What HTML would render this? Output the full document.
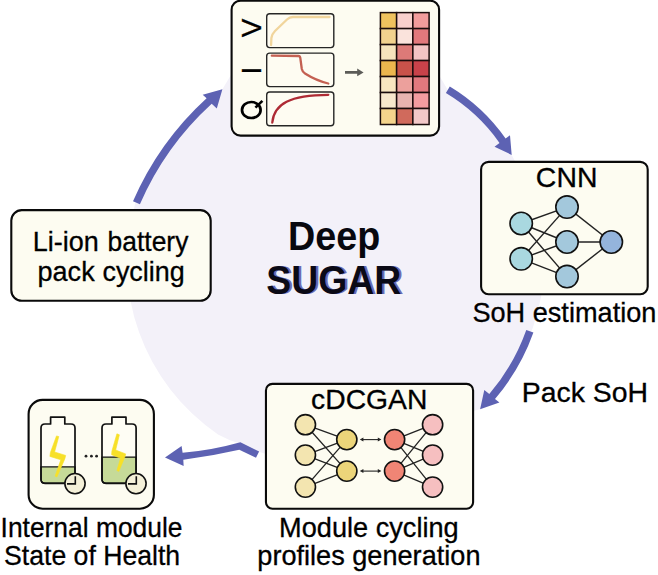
<!DOCTYPE html>
<html><head><meta charset="utf-8">
<style>
html,body{margin:0;padding:0;background:#fff;}
body{width:658px;height:575px;overflow:hidden;}
svg{display:block;}
text{font-family:"Liberation Sans",sans-serif;fill:#000;}
.lbl text{stroke:#000;stroke-width:0.3;}
</style></head><body>
<svg width="658" height="575" viewBox="0 0 658 575">
<rect width="658" height="575" fill="#fff"/>
<path d="M136.6 202.9 A299.1 299.1 0 0 1 222.4 89.3 L240 60 L430 60 L447.8 89.9 A180.5 180.5 0 0 1 511.7 154.9 L516 163 L545 262 L541.2 296 A208.6 208.6 0 0 1 480.1 409.3 L473 411 L266 454 L258 451.5 L241 444 Q229 440.5 218 434.4 A208.6 208.6 0 0 1 135.4 202.9 Z" fill="#f3f1f9"/>
<g fill="#5d62b3">
<path d="M133.0 201.3 A302.9 302.9 0 0 1 206.6 98.2 L202.7 94.8 L222.4 89.3 L216.8 108.6 L211.7 103.8 A295.4 295.4 0 0 0 139.9 204.3 Z"/>
<path d="M449.8 86.6 A184.2 184.2 0 0 1 505.6 138.6 L510.0 135.3 L511.7 154.9 L494.5 146.7 L499.5 142.9 A176.8 176.8 0 0 0 445.9 93.1 Z"/>
<path d="M533.4 332.5 A213.1 213.1 0 0 1 495.0 399.0 L499.4 402.6 L480.1 409.3 L484.3 390.0 L489.3 394.1 A205.6 205.6 0 0 0 526.3 330.0 Z"/>
<path d="M259.1 451.6 L240.4 442.2 Q211.5 450.35 182.6 452.7 L181.6 446.1 L165 457.4 L183.65 466.05 L183.3 459.65 Q211.3 456.3 239.3 449.8 L256 457.8 Z"/>
</g>
<g fill="#fdfcf1" stroke="#0a0a0a" stroke-width="2.1">
<rect x="231.60" y="0.70" width="207.50" height="134.90" rx="9.0"/>
<rect x="11.30" y="210.10" width="199.40" height="90.70" rx="10.5"/>
<rect x="481.10" y="161.90" width="166.60" height="132.30" rx="7.5"/>
<rect x="265.95" y="383.90" width="207.15" height="124.80" rx="6.5"/>
<rect x="28.60" y="399.90" width="125.30" height="108.80" rx="14.0"/>
</g>
<g class="lbl" font-size="28" text-anchor="middle">
<text transform="translate(261.4,27.8) rotate(-90)">V</text>
<text transform="translate(261.4,70.5) rotate(-90)">I</text>
</g>
<ellipse cx="251.3" cy="110" rx="9.3" ry="8" fill="none" stroke="#000" stroke-width="2.7"/>
<path d="M255.4 107.6 L262.4 100.9" stroke="#000" stroke-width="2.6" fill="none"/>
<g fill="#fefcf2" stroke="#262626" stroke-width="1.4">
<rect x="266.7" y="13.7" width="67.1" height="33.9" rx="3"/>
<rect x="266.7" y="53.1" width="67.1" height="33.5" rx="3"/>
<rect x="266.7" y="92" width="67.1" height="33.7" rx="3"/>
</g>
<g fill="none" stroke-width="2.3" stroke-linecap="round" stroke-linejoin="round">
<path d="M271.1 45 L271.4 38 Q272 34 275 31 L287 19.5 Q289.5 17 293 17 L329.5 17" stroke="#f1d59c"/>
<path d="M271.8 55.7 L298.5 56 Q300 56 300.3 58 L301.8 69 Q302.5 72 305 73.5 Q316 80.5 328.3 83.5" stroke="#c46052"/>
<path d="M272.3 122.5 C274 104 290 94.8 328.3 94.8" stroke="#ae2a34"/>
</g>
<path d="M345 71.1 L357.2 71.1 L357.2 68.6 L363.6 72.4 L357.2 76.2 L357.2 73.7 L345 73.7 Z" fill="#5c5c58"/>
<g stroke="#1a0c0c" stroke-width="1.5">
<rect x="380.40" y="12.60" width="16.23" height="15.99" fill="#efc25e"/>
<rect x="396.63" y="12.60" width="16.23" height="15.99" fill="#f8d0cc"/>
<rect x="412.87" y="12.60" width="16.23" height="15.99" fill="#f29c9c"/>
<rect x="380.40" y="28.59" width="16.23" height="15.99" fill="#f2d28e"/>
<rect x="396.63" y="28.59" width="16.23" height="15.99" fill="#fae3dc"/>
<rect x="412.87" y="28.59" width="16.23" height="15.99" fill="#e2787c"/>
<rect x="380.40" y="44.57" width="16.23" height="15.99" fill="#f6e4bc"/>
<rect x="396.63" y="44.57" width="16.23" height="15.99" fill="#dd7a78"/>
<rect x="412.87" y="44.57" width="16.23" height="15.99" fill="#f3c4c4"/>
<rect x="380.40" y="60.56" width="16.23" height="15.99" fill="#ecb64e"/>
<rect x="396.63" y="60.56" width="16.23" height="15.99" fill="#c8524a"/>
<rect x="412.87" y="60.56" width="16.23" height="15.99" fill="#c9424a"/>
<rect x="380.40" y="76.54" width="16.23" height="15.99" fill="#f8e6c0"/>
<rect x="396.63" y="76.54" width="16.23" height="15.99" fill="#eca09c"/>
<rect x="412.87" y="76.54" width="16.23" height="15.99" fill="#e2787e"/>
<rect x="380.40" y="92.53" width="16.23" height="15.99" fill="#f8e8cc"/>
<rect x="396.63" y="92.53" width="16.23" height="15.99" fill="#e8b4b0"/>
<rect x="412.87" y="92.53" width="16.23" height="15.99" fill="#f49ca0"/>
<rect x="380.40" y="108.51" width="16.23" height="15.99" fill="#f4d48c"/>
<rect x="396.63" y="108.51" width="16.23" height="15.99" fill="#d06a5c"/>
<rect x="412.87" y="108.51" width="16.23" height="15.99" fill="#f2c8c8"/>
</g>
<g stroke="#222" stroke-width="1.4">
<line x1="521.2" y1="223.5" x2="567.0" y2="207.1"/>
<line x1="521.2" y1="223.5" x2="567.0" y2="242.0"/>
<line x1="521.2" y1="223.5" x2="567.0" y2="276.6"/>
<line x1="521.2" y1="258.8" x2="567.0" y2="207.1"/>
<line x1="521.2" y1="258.8" x2="567.0" y2="242.0"/>
<line x1="521.2" y1="258.8" x2="567.0" y2="276.6"/>
<line x1="567.0" y1="207.1" x2="611.3" y2="242.0"/>
<line x1="567.0" y1="242.0" x2="611.3" y2="242.0"/>
<line x1="567.0" y1="276.6" x2="611.3" y2="242.0"/>
</g>
<g stroke="#111" stroke-width="1.6">
<circle cx="521.2" cy="223.5" r="11.2" fill="#a9d8e0"/>
<circle cx="521.2" cy="258.8" r="11.2" fill="#a9d8e0"/>
<circle cx="567.0" cy="207.1" r="11.2" fill="#a3c8dc"/>
<circle cx="567.0" cy="242.0" r="11.2" fill="#a3c8dc"/>
<circle cx="567.0" cy="276.6" r="11.2" fill="#a3c8dc"/>
<circle cx="611.3" cy="242.0" r="11.2" fill="#94b4dc"/>
</g>
<g stroke="#222" stroke-width="1.3">
<line x1="305.4" y1="424.7" x2="346.8" y2="439.6"/>
<line x1="305.4" y1="424.7" x2="346.8" y2="471.1"/>
<line x1="305.4" y1="455.1" x2="346.8" y2="439.6"/>
<line x1="305.4" y1="455.1" x2="346.8" y2="471.1"/>
<line x1="305.4" y1="487.1" x2="346.8" y2="439.6"/>
<line x1="305.4" y1="487.1" x2="346.8" y2="471.1"/>
<line x1="394.6" y1="439.6" x2="432.6" y2="424.7"/>
<line x1="394.6" y1="439.6" x2="432.6" y2="455.1"/>
<line x1="394.6" y1="439.6" x2="432.6" y2="487.1"/>
<line x1="394.6" y1="471.1" x2="432.6" y2="424.7"/>
<line x1="394.6" y1="471.1" x2="432.6" y2="455.1"/>
<line x1="394.6" y1="471.1" x2="432.6" y2="487.1"/>
</g>
<g stroke="#111" stroke-width="1.6">
<circle cx="305.4" cy="424.7" r="10.1" fill="#f3e5b0"/>
<circle cx="305.4" cy="455.1" r="10.1" fill="#f3e5b0"/>
<circle cx="305.4" cy="487.1" r="10.1" fill="#f3e5b0"/>
<circle cx="346.8" cy="439.6" r="10.1" fill="#ecd57a"/>
<circle cx="346.8" cy="471.1" r="10.1" fill="#ecd57a"/>
<circle cx="394.6" cy="439.6" r="10.1" fill="#f08575"/>
<circle cx="394.6" cy="471.1" r="10.1" fill="#f08575"/>
<circle cx="432.6" cy="424.7" r="10.1" fill="#f6bfc0"/>
<circle cx="432.6" cy="455.1" r="10.1" fill="#f6bfc0"/>
<circle cx="432.6" cy="487.1" r="10.1" fill="#f6bfc0"/>
</g>
<path d="M362 439.6 L379.2 439.6" stroke="#222" stroke-width="1.1" fill="none"/>
<path d="M359.8 439.6 l3.6 -2 v4 Z M381.4 439.6 l-3.6 -2 v4 Z" fill="#222"/>
<path d="M362 471.1 L379.2 471.1" stroke="#222" stroke-width="1.1" fill="none"/>
<path d="M359.8 471.1 l3.6 -2 v4 Z M381.4 471.1 l-3.6 -2 v4 Z" fill="#222"/>
<path d="M50.6 424.0 V417.2 H64.8 V424.0 H71.0 Q75.0 424.0 75.0 428.0 V479.3 Q75.0 483.3 71.0 483.3 H45.0 Q41.0 483.3 41.0 479.3 V428.0 Q41.0 424.0 45.0 424.0 Z" fill="#fefdf4" stroke="none"/>
<path d="M41.0 466.9 H75.0 V479.3 Q75.0 483.3 71.0 483.3 H45.0 Q41.0 483.3 41.0 479.3 Z" fill="#c6da98" stroke="#111" stroke-width="1.4"/>
<path d="M50.6 424.0 V417.2 H64.8 V424.0 H71.0 Q75.0 424.0 75.0 428.0 V479.3 Q75.0 483.3 71.0 483.3 H45.0 Q41.0 483.3 41.0 479.3 V428.0 Q41.0 424.0 45.0 424.0 Z" fill="none" stroke="#111" stroke-width="1.7" stroke-linejoin="round"/>
<path d="M111.9 424.0 V417.2 H126.0 V424.0 H132.1 Q136.1 424.0 136.1 428.0 V479.3 Q136.1 483.3 132.1 483.3 H106.0 Q102.0 483.3 102.0 479.3 V428.0 Q102.0 424.0 106.0 424.0 Z" fill="#fefdf4" stroke="none"/>
<path d="M102.0 457.1 H136.1 V479.3 Q136.1 483.3 132.1 483.3 H106.0 Q102.0 483.3 102.0 479.3 Z" fill="#c6da98" stroke="#111" stroke-width="1.4"/>
<path d="M111.9 424.0 V417.2 H126.0 V424.0 H132.1 Q136.1 424.0 136.1 428.0 V479.3 Q136.1 483.3 132.1 483.3 H106.0 Q102.0 483.3 102.0 479.3 V428.0 Q102.0 424.0 106.0 424.0 Z" fill="none" stroke="#111" stroke-width="1.7" stroke-linejoin="round"/>
<g fill="#f7e028" stroke="#f7e028" stroke-width="0.6" stroke-linejoin="round">
<path d="M56.5 435.9 L58.8 436.6 L54.6 452 L65.7 455.4 L64.8 458.9 L56.9 477 L55.1 476.1 L60.8 459.8 L49.9 456.4 L50.4 452.6 Z"/>
<path d="M116.9 433.8 L119.4 434.8 L115.7 450 L125.7 453.9 L124.8 457.3 L118.8 471.4 L116.9 470.5 L120.5 458.3 L111.6 454.7 L111.9 451 Z"/>
</g>
<circle cx="75.0" cy="483.6" r="10.1" fill="#f4f0d8" stroke="#111" stroke-width="1.6"/>
<path d="M75.3 476.2 V483.9 H67.0" fill="none" stroke="#111" stroke-width="1.6"/>
<circle cx="136.0" cy="483.6" r="10.1" fill="#f4f0d8" stroke="#111" stroke-width="1.6"/>
<path d="M136.3 476.2 V483.9 H128.0" fill="none" stroke="#111" stroke-width="1.6"/>
<circle cx="86.0" cy="456.2" r="1.4" fill="#222"/>
<circle cx="91.4" cy="456.2" r="1.4" fill="#222"/>
<circle cx="96.6" cy="456.2" r="1.4" fill="#222"/>
<g class="lbl">
<text x="32.77" y="250.70" font-size="28.30" textLength="66.00" lengthAdjust="spacingAndGlyphs">Li-ion</text>
<text x="107.58" y="250.70" font-size="28.30" textLength="80.78" lengthAdjust="spacingAndGlyphs">battery</text>
<text x="37.54" y="281.20" font-size="28.30" textLength="57.15" lengthAdjust="spacingAndGlyphs">pack</text>
<text x="102.46" y="281.20" font-size="28.30" textLength="82.27" lengthAdjust="spacingAndGlyphs">cycling</text>
<text x="535.88" y="186.75" font-size="27.70" textLength="61.54" lengthAdjust="spacingAndGlyphs">CNN</text>
<text x="472.38" y="321.70" font-size="27.40" textLength="184.01" lengthAdjust="spacingAndGlyphs">SoH estimation</text>
<text x="521.76" y="402.10" font-size="27.80" textLength="126.25" lengthAdjust="spacingAndGlyphs">Pack SoH</text>
<text x="311.10" y="408.90" font-size="27.30" textLength="116.31" lengthAdjust="spacingAndGlyphs">cDCGAN</text>
<text x="279.06" y="537.40" font-size="27.60" textLength="179.69" lengthAdjust="spacingAndGlyphs">Module cycling</text>
<text x="257.34" y="564.90" font-size="27.60" textLength="223.14" lengthAdjust="spacingAndGlyphs">profiles generation</text>
<text x="0.56" y="537.30" font-size="28.30" textLength="181.99" lengthAdjust="spacingAndGlyphs">Internal module</text>
<text x="4.10" y="565.20" font-size="28.30" textLength="176.04" lengthAdjust="spacingAndGlyphs">State of Health</text>
</g>
<g font-weight="bold" stroke-linejoin="round">
<text x="288.06" y="249.60" font-size="40.00" textLength="92.17" lengthAdjust="spacingAndGlyphs" style="fill:#08080f">Deep</text>
<g transform="translate(2.3,-0.5)"><text x="266.28" y="294.20" font-size="41.20" textLength="134.92" lengthAdjust="spacingAndGlyphs" style="fill:#6c6cb4">SUGAR</text>
</g>
<text x="266.28" y="294.20" font-size="41.20" textLength="134.92" lengthAdjust="spacingAndGlyphs" style="fill:#0a0a16">SUGAR</text>
</g>
</svg>
</body></html>
